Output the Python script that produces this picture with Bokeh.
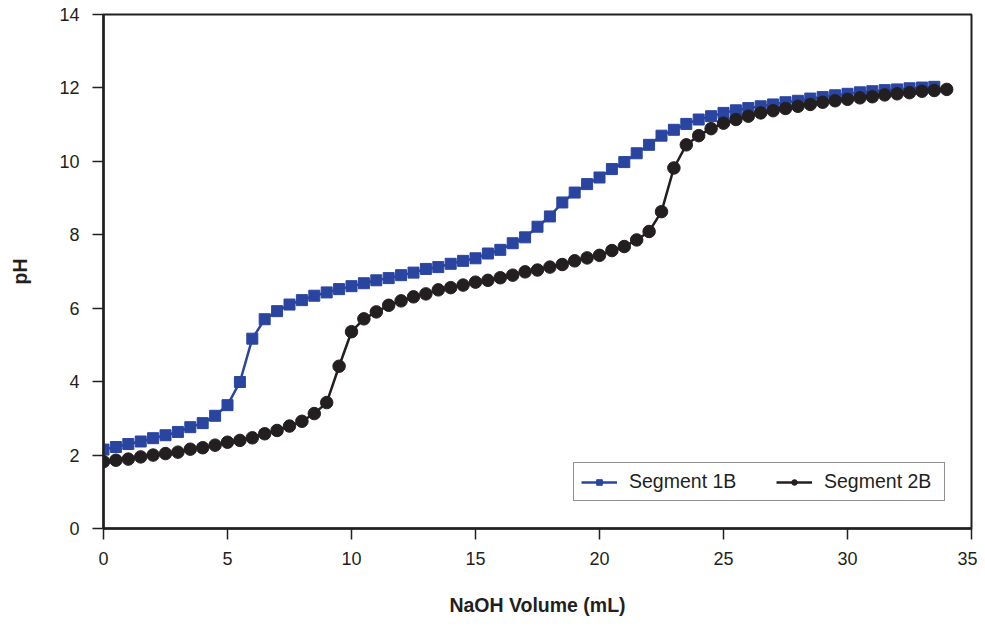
from bokeh.plotting import figure
from bokeh.models import Range1d, FixedTicker, Legend, LegendItem
from bokeh.embed import file_html
from bokeh.resources import INLINE

vol_1b = [i * 0.5 for i in range(68)]
ph_1b = [2.15, 2.22, 2.30, 2.37, 2.46, 2.54, 2.63, 2.76, 2.87, 3.07,
         3.36, 3.99, 5.17, 5.70, 5.92, 6.10, 6.22, 6.34, 6.43, 6.52,
         6.60, 6.68, 6.76, 6.82, 6.90, 6.97, 7.07, 7.12, 7.21, 7.29,
         7.36, 7.49, 7.59, 7.77, 7.93, 8.22, 8.50, 8.88, 9.15, 9.38,
         9.56, 9.79, 9.98, 10.22, 10.45, 10.70, 10.86, 11.02, 11.14, 11.23,
         11.32, 11.39, 11.45, 11.50, 11.55, 11.61, 11.65, 11.71, 11.75, 11.80,
         11.84, 11.88, 11.91, 11.94, 11.96, 11.99, 12.01, 12.03]

vol_2b = [i * 0.5 for i in range(69)]
ph_2b = [1.82, 1.86, 1.89, 1.95, 2.00, 2.04, 2.08, 2.16, 2.20, 2.27,
         2.35, 2.40, 2.47, 2.58, 2.67, 2.79, 2.92, 3.13, 3.43, 4.42,
         5.36, 5.71, 5.90, 6.08, 6.20, 6.31, 6.39, 6.50, 6.56, 6.63,
         6.71, 6.76, 6.83, 6.90, 6.99, 7.04, 7.12, 7.19, 7.29, 7.37,
         7.44, 7.57, 7.68, 7.86, 8.09, 8.63, 9.82, 10.45, 10.70, 10.89,
         11.04, 11.14, 11.23, 11.32, 11.38, 11.44, 11.50, 11.55, 11.61, 11.65,
         11.69, 11.73, 11.76, 11.81, 11.84, 11.87, 11.91, 11.93, 11.96]

x_ticks = [0, 5, 10, 15, 20, 25, 30, 35]
y_ticks = [0, 2, 4, 6, 8, 10, 12, 14]

BLUE = "#2a45a0"
BLACK = "#231f20"
FONT = "'Liberation Sans Narrow', 'Liberation Sans', Arial, sans-serif"

p = figure(width=977, height=620, output_backend="svg", toolbar_location=None,
           x_range=Range1d(0, 35), y_range=Range1d(0, 14),
           min_border_left=103, min_border_right=6, min_border_top=14, min_border_bottom=92)
p.grid.visible = False
p.outline_line_color = BLACK
p.outline_line_width = 2
p.background_fill_color = "white"
p.border_fill_color = "white"

for ax in (p.xaxis, p.yaxis):
    ax.axis_line_color = BLACK
    ax.axis_line_width = 2.5
    ax.major_tick_line_color = BLACK
    ax.major_tick_line_width = 1.5
    ax.major_tick_out = 11
    ax.major_tick_in = 0
    ax.minor_tick_line_color = None
    ax.major_label_text_font = FONT
    ax.major_label_text_font_size = "18px"
    ax.major_label_text_color = BLACK
    ax.axis_label_text_font = FONT
    ax.axis_label_text_font_size = "19.5px"
    ax.axis_label_text_font_style = "bold"
    ax.axis_label_text_color = BLACK

p.xaxis.ticker = FixedTicker(ticks=x_ticks)
p.yaxis.ticker = FixedTicker(ticks=y_ticks)
p.xaxis.axis_label = "NaOH Volume (mL)"
p.yaxis.axis_label = "pH"
p.xaxis.major_label_standoff = 12
p.xaxis.axis_label_standoff = 26
p.yaxis.major_label_standoff = 13
p.yaxis.axis_label_standoff = 25

l1 = p.line(vol_1b, ph_1b, line_color=BLUE, line_width=2.5)
s1 = p.scatter(vol_1b, ph_1b, marker="square", size=11, fill_color=BLUE, line_color=BLUE)
l2 = p.line(vol_2b, ph_2b, line_color=BLACK, line_width=2.5)
s2 = p.scatter(vol_2b, ph_2b, marker="circle", size=12.5, fill_color=BLACK, line_color=BLACK)

legend = Legend(items=[LegendItem(label="Segment 1B", renderers=[l1, s1]),
                       LegendItem(label="Segment 2B", renderers=[l2, s2])],
                orientation="horizontal", location=(470, 27),
                border_line_color=BLACK, border_line_width=1.5,
                label_text_font=FONT, label_text_font_size="19.5px", label_text_color=BLACK,
                glyph_width=36, glyph_height=14, spacing=34, padding=7, margin=0,
                label_standoff=12, label_width=113)
p.add_layout(legend, "center")

open("out.html", "w").write(file_html(p, INLINE))
